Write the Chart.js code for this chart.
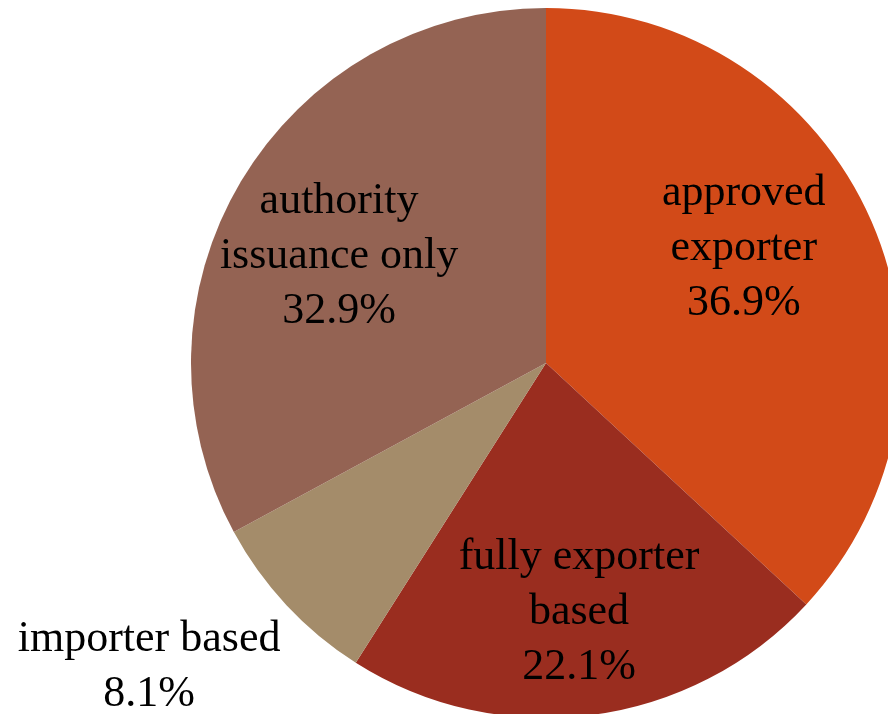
<!DOCTYPE html>
<html>
<head>
<meta charset="utf-8">
<script src="https://cdn.jsdelivr.net/npm/chart.js@4/dist/chart.umd.min.js"></script>
<style>
  html, body { margin: 0; padding: 0; background: #ffffff; overflow: hidden; width: 888px; height: 714px; }
  #wrap { position: absolute; left: 0; top: 8px; width: 1092px; height: 710px; }
</style>
</head>
<body>
<div id="wrap"><canvas id="c"></canvas></div>
<script>
const categories = ["approved exporter", "fully exporter based", "importer based", "authority issuance only"];
const labelLines = [["approved", "exporter"], ["fully exporter", "based"], ["importer based"], ["authority", "issuance only"]];
const shares = [36.9, 22.1, 8.1, 32.9];
const colors = ["#D24A18", "#9A2D1F", "#A48C6A", "#946353"];

// label anchor offsets (fraction of radius, relative to pie center)
const labelAnchors = [[0.557, -0.322], [0.093, 0.704], [-1.118, 0.855], [-0.583, -0.300]];

const labelPlugin = {
  id: 'sliceLabels',
  afterDatasetsDraw(chart) {
    const ctx = chart.ctx;
    const meta = chart.getDatasetMeta(0);
    ctx.save();
    ctx.font = '44px "Liberation Serif", "Times New Roman", serif';
    ctx.fillStyle = '#000000';
    ctx.textAlign = 'center';
    ctx.textBaseline = 'middle';
    const lh = 55;
    meta.data.forEach((arc, i) => {
      const r = arc.outerRadius;
      const cx = arc.x + labelAnchors[i][0] * r;
      const cy = arc.y + labelAnchors[i][1] * r;
      const lines = labelLines[i].concat([shares[i].toFixed(1) + '%']);
      const y0 = cy - (lines.length - 1) * lh / 2;
      lines.forEach((t, k) => ctx.fillText(t, cx, y0 + k * lh));
    });
    ctx.restore();
  }
};

new Chart(document.getElementById('c'), {
  type: 'pie',
  data: {
    labels: categories,
    datasets: [{
      data: shares,
      backgroundColor: colors,
      borderWidth: 0
    }]
  },
  options: {
    responsive: true,
    maintainAspectRatio: false,
    animation: false,
    layout: { padding: 0 },
    plugins: {
      legend: { display: false },
      tooltip: { enabled: false }
    }
  },
  plugins: [labelPlugin]
});
</script>
</body>
</html>
